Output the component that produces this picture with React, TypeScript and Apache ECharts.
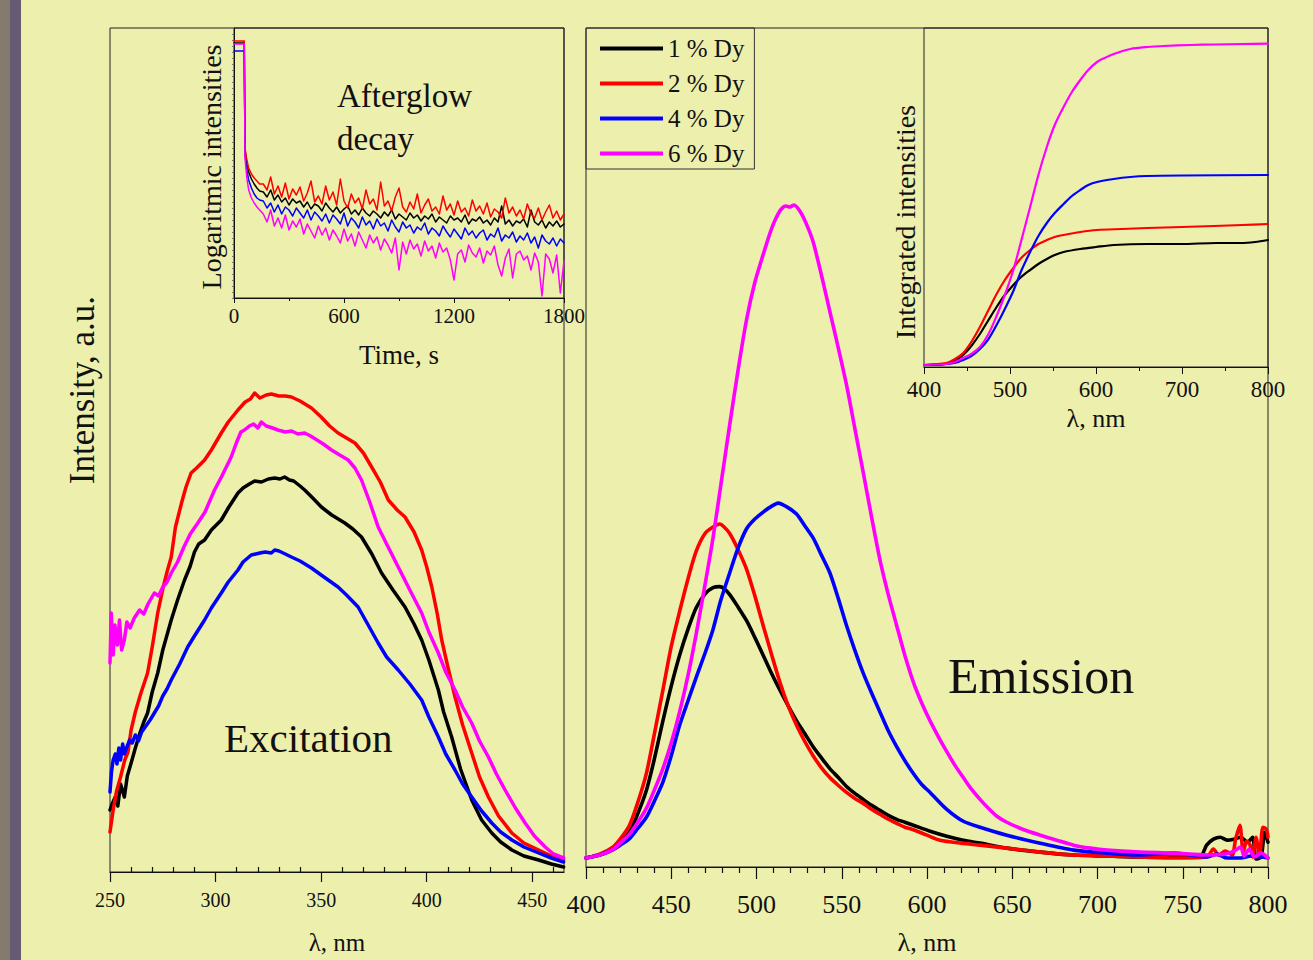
import React, { useEffect, useRef } from "react";
import * as echarts from "echarts";

// ---------- Data ----------
const seriesNames = ["1 % Dy", "2 % Dy", "4 % Dy", "6 % Dy"];
const seriesColors = ["#000000", "#ff0000", "#0000ff", "#ff00ff"];

// Excitation spectra: [wavelength nm, intensity a.u.]
const excBlack = [[250,62],[251,68],[252.5,75],[253.7,66],[255,88],[256.8,75],[258.2,96],[260,109],[262,124],[264,138],[266,150],[267.8,159],[270,180],[272.6,199],[275,222],[279,252],[282,272],[285.3,292],[288,306],[290,320],[292,328],[294.8,332],[298,342],[302.7,352],[306,364],[310.6,379],[313,384],[316,388],[318.5,391],[321.7,390],[325,393],[328,394],[330.5,393],[332.7,395],[335,392],[337,391],[340,386],[342.2,382],[346,374],[350.1,365],[355,357],[361.2,349],[365,343],[369.1,335],[374,318],[378.6,299],[384,282],[389.7,265],[394,248],[397.6,232],[401,212],[405.5,182],[408,160],[411.8,135],[416,103],[421.3,72],[426,52],[430.8,39],[435,30],[440.3,22],[446,16],[453,12],[459,8],[464.8,5]];
const excRed = [[250,40],[251.5,62],[253,80],[255,95],[257,112],[258.5,120],[260,142],[262,160],[264.5,178],[267.8,199],[270,225],[272.6,259],[275,283],[277,300],[279,315],[281,345],[284,370],[286,385],[288.4,399],[291,404],[294.8,412],[298,422],[302.7,439],[306,450],[310.6,462],[314,470],[316.5,473],[318.5,479],[321,474],[324,477],[326.4,478],[330,476],[333,476],[335.9,475],[340,471],[345.4,464],[350,455],[354,446],[358,439],[362,434],[366,429],[370,419],[373.9,405],[378,390],[381.8,372],[386,362],[389.7,355],[394,340],[397.6,322],[400,305],[402.4,285],[405,258],[407.1,232],[410,205],[413.4,175],[417,147],[421.3,119],[425,95],[429.2,75],[434,56],[440.3,39],[446,29],[453,22],[459,16],[464.8,12]];
const excBlue = [[250,80],[250.7,100],[251.5,112],[252.5,118],[253.3,108],[254.2,124],[255,112],[256,128],[256.8,118],[258,125],[259.3,132],[260.5,129],[262,137],[263.5,131],[265,140],[267,146],[269,152],[271,159],[273,166],[275,176],[277,183],[279,192],[281,200],[283,208],[286.8,225],[290,236],[294.8,252],[298,264],[302.7,279],[306,290],[310.6,302],[313,310],[316.9,317],[319,318],[321,319],[323.5,320],[326.4,319],[328,322],[330,321],[333,318],[335.9,315],[340,311],[345.4,304],[350,297],[354,291],[358,285],[362,277],[367.5,265],[372,248],[377,229],[381,215],[386.5,202],[392,188],[397.6,172],[401,155],[405.5,135],[409,118],[413.4,102],[417,88],[421.3,75],[426,61],[430.8,49],[435,40],[440.3,32],[446,25],[453,19],[459,14],[464.8,10]];
const excMagenta = [[250,209],[250.6,259],[251.5,217],[252.3,247],[253.5,227],[254.5,252],[255.5,222],[256.8,232],[258,250],[259.5,244],[261.5,254],[264,262],[266,258],[268,268],[271,279],[273,276],[275,285],[277,290],[279,299],[282,310],[285,325],[288,338],[291.6,349],[295,360],[299.5,382],[303,396],[307.4,415],[310,430],[312,440],[313.7,442],[316,446],[318,448],[320,444],[321.7,450],[324,446],[327,444],[329.5,442],[333,440],[336,441],[339,438],[342.2,439],[345,436],[348,432],[351,428],[354.9,422],[358,418],[362.8,412],[366,404],[369.1,392],[373,370],[377,345],[381,328],[386.5,305],[392,282],[397.6,259],[401,240],[405.5,219],[409,200],[413.4,182],[417,165],[421.3,149],[425,131],[429.2,115],[433,98],[437.1,82],[442,64],[446.6,49],[451,36],[456.1,25],[460,18],[464.8,14]];

// Emission spectra: [wavelength nm, intensity a.u.]
const emBlack = [[400,9],[408,12],[415.7,17.5],[420,24],[425.5,35],[430,52],[435.4,77],[440,108],[445.1,147],[450,182],[454.9,213],[460,240],[464.7,261],[470,275],[474.5,281],[478.4,282],[481,280],[484.3,274],[489,262],[494.1,248],[499,231],[503.9,213],[508.8,195],[513.7,178],[518.6,162],[523.5,147],[528.4,134],[533.2,121],[538,110],[543,99],[548,90],[552.8,81],[557.7,74],[562.6,68],[567.5,62],[572.4,57],[577.3,52],[582.2,48],[587,45],[592,42],[601.8,36],[611.6,31],[621.3,27],[631.1,24],[646.8,19],[666.4,15],[686,12],[705.6,11],[725,10],[745,10],[760,10],[764,22],[768,28],[772,30],[776,27],[780,28],[784,30],[788,25],[791,30],[793,8],[796,10],[798,35],[800,25]];
const emRed = [[400,9],[408,13],[415.7,20],[420,28],[425.5,42],[430,63],[435.4,94],[440,133],[445.1,178],[450,222],[454.9,257],[460,291],[464.7,318],[470,336],[474.5,342],[478.4,345],[481,342],[484.3,335.5],[489,320],[494.1,300],[499,273],[503.9,243],[508.8,214],[513.7,186],[518.6,162],[523.5,142.5],[528.4,126],[533.2,112],[538,100],[543,90],[548,82],[552.8,75],[557.7,69],[562.6,64],[567.5,58],[572.4,53],[577.3,48],[582.2,44],[587,40],[592,37.5],[600,32],[607.6,27],[620,24],[631.1,22],[646.8,19],[666.4,15],[686,12],[705.6,11],[725,10],[745,9],[764,10],[768,18],[771,12],[775,16],[779,12],[781,28],[783.5,42],[785.5,15],[787.5,26],[789.5,22],[791,10],[793,30],[795,10],[797,40],[799,38],[800,30]];
const emBlue = [[400,9],[408,12],[415.7,17.5],[420,22],[425.5,28.5],[430,38],[435.4,50],[440,66],[445.1,85.5],[450,112],[454.9,142.5],[460,168],[464.7,191],[470,216],[474.5,239],[479,268],[484.3,296],[489,320],[494.1,340],[499,350],[503.9,357],[508,362],[512.7,366],[518,362],[523.5,355],[528,344],[533.2,331],[538,314],[543,296],[548,270],[552.8,243],[557.7,218],[562.6,195],[567.5,175],[572.4,156],[577.3,137],[582.2,121],[587,107],[592,94],[596.9,83],[601.8,75],[611.6,58],[621.3,46],[631.1,40],[646.8,32],[666.4,24],[686,17],[705.6,14],[725,12],[745,14],[764,10],[770,13],[776,9],[784,9],[790,11],[800,9]];
const emMagenta = [[400,9],[408,12],[415.7,17.5],[420,24],[425.5,33],[430,44],[435.4,59],[440,77],[445.1,99],[450,125],[454.9,156],[460,194],[464.7,235],[469.6,282],[474.5,331],[479.4,388],[484.3,445],[489.2,500],[494.1,550],[499,588],[503.9,616],[508.8,642],[513.7,660],[517,665],[519.6,664],[522,666],[525.4,660],[529,648],[533.2,629],[538,596],[543,559],[548,522],[552.8,485],[557.7,441],[562.6,397],[567.5,352],[572.4,309],[577.3,274],[582.2,243],[587,213],[592,186],[596.9,165],[601.8,147],[606.7,131],[611.6,116],[616.5,102],[621.3,90],[626.2,78],[631.1,68],[636,59],[641,51],[646.8,45],[656,38],[666.4,32],[676,27],[686,22],[695.8,19],[705.6,17],[725,15],[744.7,14],[764.3,12],[775,13],[780,16],[784,20],[786,11],[789,18],[792,10],[796,14],[800,9]];

// Integrated emission intensities: [wavelength nm, integral a.u.]
const intBlack = [[400,2],[426,3],[436,6],[445.5,12],[455,21],[465,33],[475,47],[484.4,60],[494,72],[503.9,82],[513,90],[523.4,97],[533,103],[542.8,108],[552,112],[562.3,115],[581.7,118],[600,120],[620.6,122],[660,123],[698.5,123],[740,124],[768.5,124],[785,125],[800,127]];
const intRed = [[400,2],[426,4],[436,8],[445.5,14],[455,25],[465,40],[475,57],[484.4,73],[494,87],[503.9,99],[513,109],[523.4,117],[533,123],[542.8,127],[552,130],[562.3,132],[581.7,135],[601.2,137],[630,138],[659.6,139],[700,140],[737.3,141],[770,142],[800,143]];
const intBlue = [[400,2],[426,3],[436,4],[445.5,7],[455,11],[465,18],[475,28],[484.4,42],[494,58],[503.9,76],[513,96],[523.4,115],[533,131],[542.8,144],[552,154],[562.3,163],[572,171],[581.7,177],[591,182],[601.2,185],[620.6,188],[640,190],[659.6,191],[700,191.5],[800,192]];
const intMagenta = [[400,2],[426,3],[436,5],[445.5,9],[455,13],[465,20],[475,33],[484.4,51],[494,72],[503.9,97],[513,126],[523.4,160],[533,192],[542.8,220],[552,242],[562.3,260],[572,275],[581.7,287],[591,297],[601.2,305],[610,309],[620.6,313],[640,318],[660,320],[679,321],[710,322],[737.3,322.5],[770,323],[800,323.4]];

// Afterglow decay: time (s) and log intensity (a.u.)
const decayTime = [0,56,60,70,80,95,110,125,140,
  160,180,200,220,240,260,280,300,320,340,
  360,380,400,420,440,460,480,500,520,540,
  560,580,600,620,640,660,680,700,720,740,
  760,780,800,820,840,860,880,900,920,940,
  960,980,1000,1020,1040,1060,1080,1100,1120,1140,
  1160,1180,1200,1220,1240,1260,1280,1300,1320,1340,
  1360,1380,1400,1420,1440,1460,1480,1500,1520,1540,
  1560,1580,1600,1620,1640,1660,1680,1700,1720,1740,
  1760,1780,1800];
const decayBlack = [255,255,148,134,126,119,114,110,107,
  106,101,108,98,103,96,100,93,99,95,
  97,91,96,89,94,92,87,95,90,86,
  91,85,89,92,84,88,83,90,85,82,
  87,84,80,86,82,88,79,84,81,78,
  85,80,83,77,82,79,84,76,81,78,
  75,82,78,80,76,83,74,79,77,81,
  75,78,73,80,76,92,74,78,72,77,
  75,79,71,88,76,73,78,70,76,72,
  77,71,74];
const decayRed = [257,257,150,138,130,124,120,117,114,
  114,108,121,104,112,101,115,99,109,103,
  111,97,105,117,96,102,94,112,98,106,
  93,119,97,90,104,95,100,89,108,94,
  99,88,116,92,97,87,101,110,91,86,
  96,89,104,85,93,99,87,91,84,102,
  88,94,83,97,86,90,82,98,87,92,
  84,95,81,89,86,80,100,85,91,82,
  88,79,94,84,80,90,78,86,93,80,
  87,78,84];
const decayBlue = [247,247,143,128,118,110,104,100,98,
  97,90,95,86,93,84,91,88,82,90,
  85,80,88,78,86,82,77,84,75,83,
  79,74,85,72,80,76,70,81,73,77,
  69,79,72,75,67,78,71,66,76,70,
  73,65,71,68,75,64,70,67,62,72,
  66,61,69,64,59,70,63,67,60,65,
  68,58,64,61,70,57,63,60,66,56,
  62,58,65,55,61,50,63,57,54,60,
  52,59,55];
const decayMagenta = [254,254,140,120,108,100,95,91,88,
  84,76,88,72,80,70,83,68,77,71,
  79,64,74,67,60,72,63,70,58,68,
  62,55,69,57,64,52,66,58,50,63,
  55,61,48,59,53,45,60,28,56,44,
  58,49,54,42,57,47,52,40,55,46,
  50,38,18,44,48,36,53,45,41,50,
  35,47,43,52,33,22,40,49,20,44,
  47,38,42,28,45,36,2,44,39,25,
  43,5,37];

// Tick labels
const excMajorTicks = [250, 300, 350, 400, 450];
const excMinorTicks = [260,270,280,290,310,320,330,340,360,370,380,390,410,420,430,440,460];

// ---------- Styling ----------
const FONT = "'Liberation Serif', 'Times New Roman', Times, serif";
const BG = "#EDEFAD";
const AX = "#111";

const zip = (t: number[], v: number[]) => t.map((x, i) => [x, v[i]]);
const plainNum = (v: number) => String(v);

function lineSeries(name: string, color: string, data: number[][], xi: number, yi: number, width: number, smooth: number | boolean) {
  return {
    type: "line",
    name,
    data,
    xAxisIndex: xi,
    yAxisIndex: yi,
    symbol: "none",
    showSymbol: false,
    smooth,
    lineStyle: { color, width, join: "round", cap: "round" },
    itemStyle: { color },
    silent: true,
  };
}

function baseX(grid: number, extra: any) {
  return {
    type: "value",
    gridIndex: grid,
    splitLine: { show: false },
    axisLine: { show: true, onZero: false, lineStyle: { color: AX, width: 1.2 } },
    axisTick: { show: true, inside: false, lineStyle: { color: AX, width: 1.2 } },
    axisLabel: { color: AX, fontFamily: FONT },
    nameLocation: "middle",
    nameTextStyle: { color: AX, fontFamily: FONT },
    ...extra,
  };
}

function baseY(grid: number, extra: any) {
  return {
    type: "value",
    gridIndex: grid,
    splitLine: { show: false },
    axisLine: { show: false },
    axisTick: { show: false },
    axisLabel: { show: false },
    ...extra,
  };
}

function rotText(text: string, x: number, y: number, size: number) {
  return {
    type: "text",
    x,
    y,
    rotation: Math.PI / 2,
    silent: true,
    style: {
      text,
      font: `${size}px ${FONT}`,
      fill: AX,
      align: "center",
      verticalAlign: "middle",
      textAlign: "center",
      textVerticalAlign: "middle",
    },
  };
}

function plainText(text: string, x: number, y: number, size: number) {
  return {
    type: "text",
    x,
    y,
    silent: true,
    style: {
      text,
      font: `${size}px ${FONT}`,
      fill: AX,
      align: "left",
      verticalAlign: "middle",
      textAlign: "left",
      textVerticalAlign: "middle",
    },
  };
}

const gridBox = { show: true, borderColor: "#222", borderWidth: 1, backgroundColor: "transparent" };

const excData = [excBlack, excRed, excBlue, excMagenta];
const emData = [emBlack, emRed, emBlue, emMagenta];
const intData = [intBlack, intRed, intBlue, intMagenta];
const decayData = [decayBlack, decayRed, decayBlue, decayMagenta];

const option: any = {
  animation: false,
  backgroundColor: BG,
  grid: [
    { left: 110, top: 28, width: 454, height: 844, ...gridBox },
    { left: 234, top: 28, width: 330, height: 270, ...gridBox },
    { left: 586, top: 28, width: 682, height: 844, ...gridBox },
    { left: 924, top: 28, width: 344, height: 339, ...gridBox },
  ],
  xAxis: [
    baseX(0, {
      min: 250, max: 465, interval: 50,
      axisTick: { show: true, length: 10, customValues: excMajorTicks, lineStyle: { color: AX, width: 1.2 } },
      axisLabel: { color: AX, fontFamily: FONT, fontSize: 20, margin: 18, customValues: excMajorTicks, formatter: plainNum },
      name: "λ, nm", nameGap: 58, nameTextStyle: { color: AX, fontFamily: FONT, fontSize: 25 },
    }),
    baseX(0, {
      min: 250, max: 465, interval: 10,
      axisLine: { show: false },
      axisTick: { show: true, length: 5, customValues: excMinorTicks, lineStyle: { color: AX, width: 1.2 } },
      axisLabel: { show: false },
    }),
    baseX(1, {
      min: 0, max: 1800, interval: 600,
      axisTick: { show: true, length: 5, lineStyle: { color: AX, width: 1 } },
      minorTick: { show: true, splitNumber: 2, length: 3, lineStyle: { color: AX, width: 1 } },
      axisLabel: { color: AX, fontFamily: FONT, fontSize: 21, margin: 7, formatter: plainNum },
      name: "Time, s", nameGap: 43, nameTextStyle: { color: AX, fontFamily: FONT, fontSize: 27 },
    }),
    baseX(2, {
      min: 400, max: 800, interval: 50,
      axisTick: { show: true, length: 12, lineStyle: { color: AX, width: 1.2 } },
      minorTick: { show: true, splitNumber: 5, length: 6, lineStyle: { color: AX, width: 1.2 } },
      axisLabel: { color: AX, fontFamily: FONT, fontSize: 26, margin: 24, formatter: plainNum },
      name: "λ, nm", nameGap: 62, nameTextStyle: { color: AX, fontFamily: FONT, fontSize: 26 },
    }),
    baseX(3, {
      min: 400, max: 800, interval: 100,
      axisTick: { show: true, length: 7, lineStyle: { color: AX, width: 1 } },
      minorTick: { show: true, splitNumber: 2, length: 4, lineStyle: { color: AX, width: 1 } },
      axisLabel: { color: AX, fontFamily: FONT, fontSize: 23, margin: 11, formatter: plainNum },
      name: "λ, nm", nameGap: 38, nameTextStyle: { color: AX, fontFamily: FONT, fontSize: 26 },
    }),
  ],
  yAxis: [
    baseY(0, { min: 0, max: 844 }),
    baseY(1, {
      min: 0, max: 270, interval: 6,
      axisLine: { show: true, lineStyle: { color: AX, width: 1 } },
      axisTick: { show: true, length: 2, lineStyle: { color: "#777", width: 1 } },
    }),
    baseY(2, { min: 0, max: 844 }),
    baseY(3, { min: 0, max: 339 }),
  ],
  legend: {
    data: seriesNames,
    orient: "vertical",
    left: 586,
    top: 28,
    padding: [8, 10, 3, 14],
    itemGap: 10,
    itemWidth: 63,
    itemHeight: 4,
    icon: "rect",
    selectedMode: false,
    borderColor: "#333",
    borderWidth: 1,
    backgroundColor: "transparent",
    textStyle: { color: AX, fontFamily: FONT, fontSize: 25, lineHeight: 24 },
  },
  graphic: [
    { type: "rect", shape: { x: 0, y: 0, width: 10, height: 960 }, style: { fill: "#857A6E" }, silent: true },
    { type: "rect", shape: { x: 10, y: 0, width: 11, height: 960 }, style: { fill: "#645A71" }, silent: true },
    rotText("Intensity, a.u.", 82, 390, 35),
    rotText("Logaritmic intensities", 211, 167, 28),
    rotText("Integrated intensities", 905, 222, 28),
    plainText("Afterglow", 337, 96, 33),
    plainText("decay", 337, 139, 33),
    plainText("Excitation", 224, 738, 41),
    plainText("Emission", 948, 676, 50),
  ],
  series: [
    ...excData.map((d, i) => lineSeries("Excitation " + seriesNames[i], seriesColors[i], d, 0, 0, 3.5, false)),
    ...decayData.map((d, i) => lineSeries("Afterglow " + seriesNames[i], seriesColors[i], zip(decayTime, d), 2, 1, 1.5, false)),
    ...emData.map((d, i) => lineSeries(seriesNames[i], seriesColors[i], d, 3, 2, 3.6, 0.25)),
    ...intData.map((d, i) => lineSeries("Integrated " + seriesNames[i], seriesColors[i], d, 4, 3, 2.2, 0.3)),
  ],
};

export default function App() {
  const ref = useRef<HTMLDivElement>(null);
  useEffect(() => {
    if (!ref.current) return;
    const chart = echarts.init(ref.current, null, { renderer: "svg" });
    chart.setOption(option);
    return () => chart.dispose();
  }, []);
  return (
    <div
      ref={ref}
      style={{ position: "absolute", left: 0, top: 0, width: 1313, height: 960 }}
    />
  );
}
